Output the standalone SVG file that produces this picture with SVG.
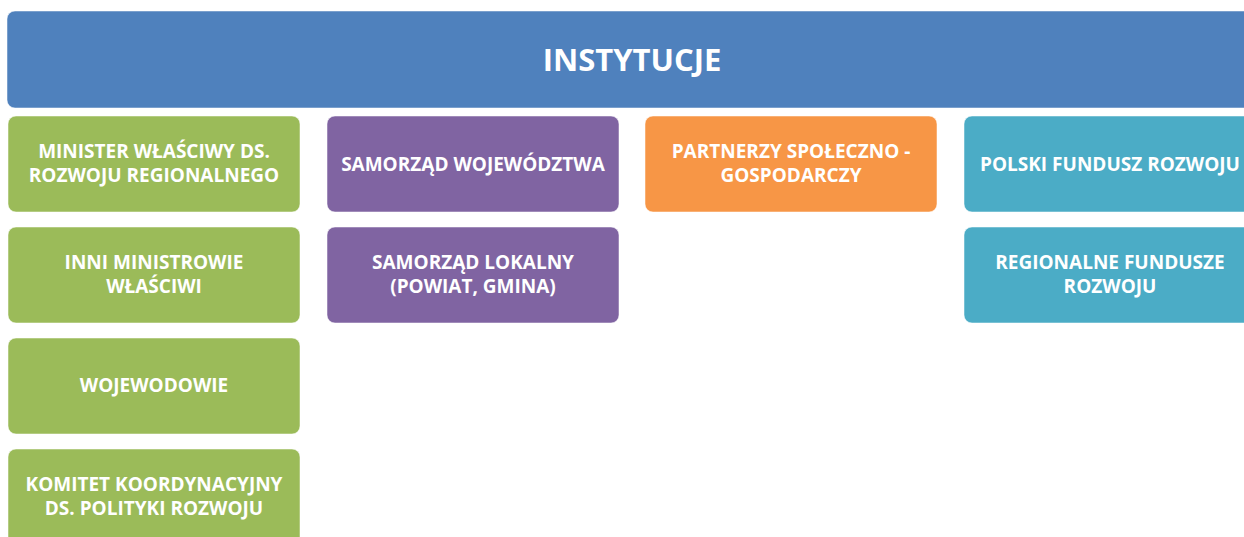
<svg xmlns="http://www.w3.org/2000/svg" width="1244" height="537" viewBox="0 0 1244 537">
<style>
.t{font-family:"Open Sans","Liberation Sans",sans-serif;font-weight:bold;font-size:19px;fill:#fff;text-anchor:middle}
.h{font-size:31px}
.b{stroke:#fff;stroke-opacity:0.5;stroke-width:1}
.g{fill:#9BBB59}.p{fill:#8064A2}.o{fill:#F79646}.c{fill:#4BACC6}
</style>
<rect width="1244" height="537" fill="#fff"/>
<g id="header"><rect class="b" x="7" y="11" width="1260" height="97" rx="8" fill="#4F81BD"/><text class="t h" x="632" y="71">INSTYTUCJE</text></g>
<g id="n1"><rect class="b g" x="8" y="116" width="292" height="96" rx="8"/><text class="t" x="154" y="158">MINISTER WŁAŚCIWY DS.</text><text class="t" x="154" y="182">ROZWOJU REGIONALNEGO</text></g>
<g id="n2"><rect class="b g" x="8" y="227" width="292" height="96" rx="8"/><text class="t" x="154" y="269">INNI MINISTROWIE</text><text class="t" x="154" y="293">WŁAŚCIWI</text></g>
<g id="n3"><rect class="b g" x="8" y="338" width="292" height="96" rx="8"/><text class="t" x="154" y="392">WOJEWODOWIE</text></g>
<g id="n4"><rect class="b g" x="8" y="449" width="292" height="100" rx="8"/><text class="t" x="154" y="491">KOMITET KOORDYNACYJNY</text><text class="t" x="154" y="515">DS. POLITYKI ROZWOJU</text></g>
<g id="n5"><rect class="b p" x="327" y="116" width="292" height="96" rx="8"/><text class="t" x="473" y="171">SAMORZĄD WOJEWÓDZTWA</text></g>
<g id="n6"><rect class="b p" x="327" y="227" width="292" height="96" rx="8"/><text class="t" x="473" y="269">SAMORZĄD LOKALNY</text><text class="t" x="473" y="293">(POWIAT, GMINA)</text></g>
<g id="n7"><rect class="b o" x="645" y="116" width="292" height="96" rx="8"/><text class="t" x="791" y="158">PARTNERZY SPOŁECZNO -</text><text class="t" x="791" y="182">GOSPODARCZY</text></g>
<g id="n8"><rect class="b c" x="964" y="116" width="292" height="96" rx="8"/><text class="t" x="1110" y="171">POLSKI FUNDUSZ ROZWOJU</text></g>
<g id="n9"><rect class="b c" x="964" y="227" width="292" height="96" rx="8"/><text class="t" x="1110" y="269">REGIONALNE FUNDUSZE</text><text class="t" x="1110" y="293">ROZWOJU</text></g>
<g id="connectors"></g>
</svg>
